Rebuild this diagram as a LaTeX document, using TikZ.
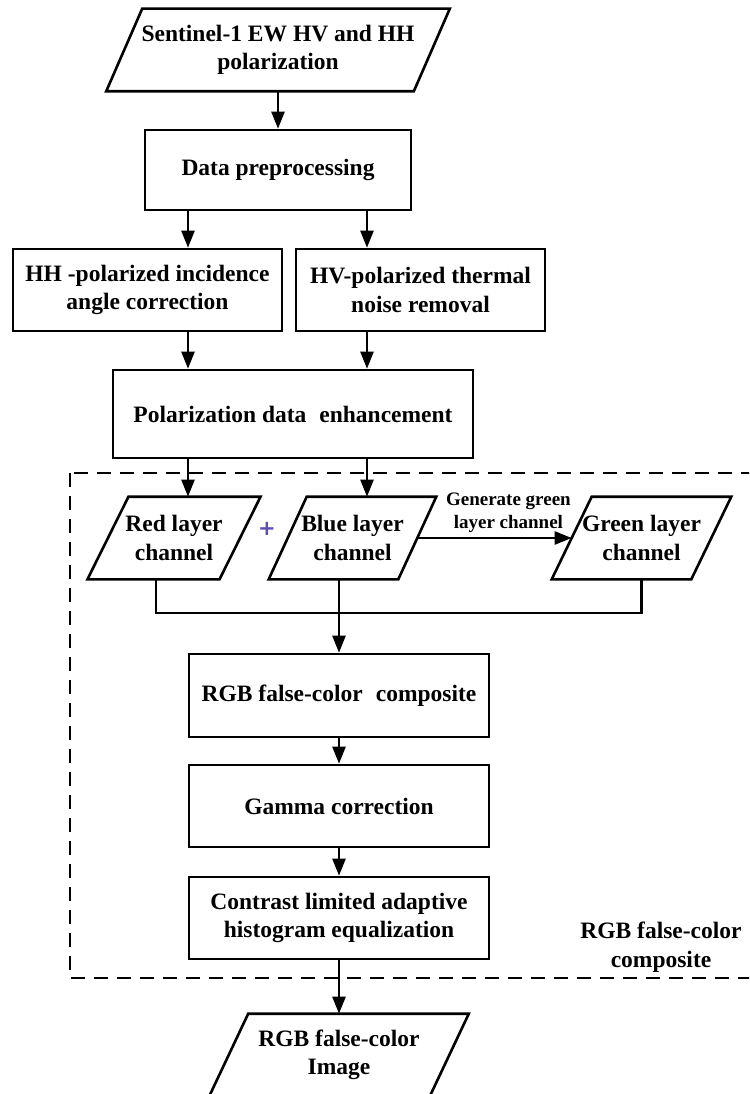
\documentclass[tikz,border=0pt]{standalone}
\usepackage{fontspec}
\setmainfont{Liberation Serif}
\newfontfamily\plusfont{DejaVu Sans}
\usetikzlibrary{arrows.meta,calc}
\definecolor{plusc}{RGB}{95,75,185}
\newcommand{\mainfont}{\fontsize{23.5}{28.5}\selectfont\bfseries}
\newcommand{\pgram}[2]{\draw[line width=2.6pt, line join=miter]
  ($(#1.south west)+(-#2,0)$) -- ($(#1.north west)+(#2,0)$) --
  ($(#1.north east)+(#2,0)$) -- ($(#1.south east)+(-#2,0)$) -- cycle;}
\tikzset{
  box/.style={draw, line width=2.6pt, align=center, font=\mainfont, inner sep=0pt},
  ptext/.style={align=center, font=\mainfont, inner sep=0pt, outer sep=1.3pt},
  arr/.style={line width=2.4pt, -{Triangle[length=17pt,width=13pt]}},
  conn/.style={line width=2.4pt},
  dashbox/.style={line width=2.2pt, dash pattern=on 14pt off 9pt},
}
\begin{document}
\begin{tikzpicture}[x=1pt,y=-1pt]
\path[use as bounding box] (0,0) rectangle (749,1094);
\clip (0,0) rectangle (749,1094);
% nodes
\node[ptext, minimum width=305pt, minimum height=80pt] (src) at (278,50) {Sentinel-1 EW HV and HH\\polarization};
\pgram{src}{18}
\node[box, minimum width=266pt, minimum height=80pt] (dp) at (278,170) {Data preprocessing};
\node[box, minimum width=269pt, minimum height=82pt] (hh) at (147.5,290) {HH -polarized incidence\\angle correction};
\node[box, minimum width=249pt, minimum height=82pt] (hv) at (420.5,290) {HV-polarized thermal\\noise removal};
\node[box, minimum width=360pt, minimum height=88pt] (pol) at (293,414) {Polarization data\hspace{0.3em} enhancement};
\node[ptext, minimum width=129.5pt, minimum height=80pt] (red) at (174,538) {Red layer\\channel};
\pgram{red}{20.5}
\node[ptext, minimum width=127pt, minimum height=80pt] (blue) at (352.5,538) {Blue layer\\channel};
\pgram{blue}{19}
\node[ptext, minimum width=137pt, minimum height=80pt] (green) at (641.5,538) {Green layer\\channel};
\pgram{green}{20}
\node[text=plusc, font=\plusfont\fontsize{21}{21}\selectfont\bfseries, inner sep=0pt] (plus) at (267,529) {+};
\node[box, minimum width=300pt, minimum height=83pt] (rgb) at (339,695.5) {RGB false-color\hspace{0.3em} composite};
\node[box, minimum width=300pt, minimum height=82pt] (gam) at (339,806) {Gamma correction};
\node[box, minimum width=300pt, minimum height=82pt] (cla) at (339,918) {Contrast limited adaptive\\histogram equalization};
\node[ptext, minimum width=218pt, minimum height=80pt] (out) at (339,1055) {RGB false-color\\Image};
\pgram{out}{19.5}
\node[align=center, font=\mainfont, inner sep=0pt] (lab) at (661,947) {RGB false-color\\composite};
% dashed frame
\draw[dashbox] (70,473) rectangle (770,978);
% helper coordinates
\coordinate (xL) at (188,0);
\coordinate (xR) at (367,0);
\coordinate (xr) at (156,0);
\coordinate (xc) at (339,0);
\coordinate (jn) at (339,613);
% connectors
\draw[arr] (src.south) -- (dp.north);
\draw[arr] (dp.south -| xL) -- (hh.north -| xL);
\draw[arr] (dp.south -| xR) -- (hv.north -| xR);
\draw[arr] (hh.south -| xL) -- (pol.north -| xL);
\draw[arr] (hv.south -| xR) -- (pol.north -| xR);
\draw[arr] (pol.south -| xL) -- (red.north -| xL);
\draw[arr] (pol.south -| xR) -- (blue.north -| xR);
\draw[arr] (blue.east) -- node[pos=0.59, yshift=25.5pt, align=center, inner sep=0pt,
  font=\fontsize{19}{23}\selectfont\bfseries] (glab) {Generate green\\layer channel} (green.west);
\draw[conn] (red.south -| xr) |- (jn) -| (green.south);
\draw[arr] (blue.south -| xc) -- (rgb.north);
\draw[arr] (rgb) -- (gam);
\draw[arr] (gam) -- (cla);
\draw[arr] (cla) -- (out);
\end{tikzpicture}
\end{document}
